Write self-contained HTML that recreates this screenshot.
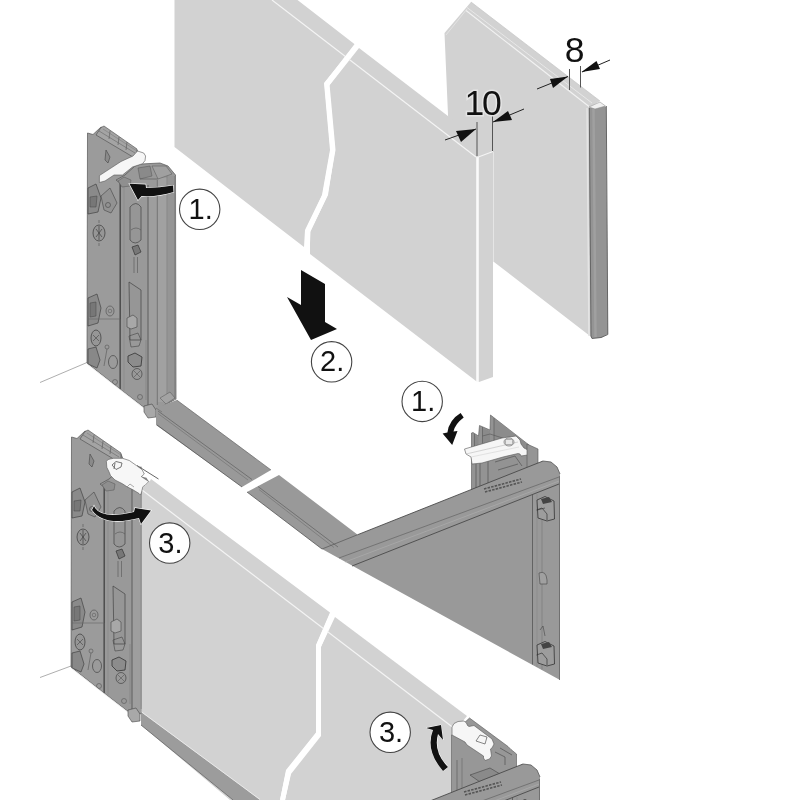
<!DOCTYPE html>
<html><head><meta charset="utf-8"><title>Drawer front assembly</title>
<style>
html,body{margin:0;padding:0;background:#fff;width:800px;height:800px;overflow:hidden}
svg{display:block;will-change:transform}
text{font-family:"Liberation Sans",sans-serif}
</style></head><body>
<svg width="800" height="800" viewBox="0 0 800 800">
<defs>
<!-- side runner mechanism (upper-left placement coordinates) -->
<g id="mech">
  <!-- back plate -->
  <polygon points="87.5,133 93,134.5 101,127 137,150 141,160 120,183 120,389 87,363" fill="#9b9b9b" stroke="#555" stroke-width="0.7"/>
  <!-- top rail on back plate -->
  <polygon points="101,127.5 104,126 137,149 137,156 133,157 96,135" fill="#a4a4a4" stroke="#4a4a4a" stroke-width="0.6"/>
  <line x1="99" y1="131" x2="135" y2="153" stroke="#666" stroke-width="0.6"/>
  <line x1="103" y1="129" x2="137" y2="151" stroke="#777" stroke-width="0.5"/>
  <line x1="110" y1="131" x2="109" y2="139" stroke="#555" stroke-width="0.6"/>
  <line x1="119" y1="137" x2="118" y2="145" stroke="#555" stroke-width="0.6"/>
  <line x1="127" y1="142" x2="126" y2="150" stroke="#555" stroke-width="0.6"/>
  <path d="M106,150 L110,157 L108,163 L105,160 Z" fill="#8a8a8a" stroke="#444" stroke-width="0.6"/>
  <!-- runner body -->
  <polygon points="116,180 125,175 135,166 141,164 160,163 168,166 175.5,175 176,399 156,410 150,412 120,389 120,183" fill="#999" stroke="#555" stroke-width="0.7"/>
  <!-- channel stripes -->
  <rect x="148" y="188" width="9.5" height="220" fill="#9e9e9e"/>
  <rect x="157.5" y="178" width="10" height="224" fill="#a1a1a1"/>
  <rect x="167.5" y="176" width="8" height="224" fill="#959595"/>
  <line x1="148" y1="185" x2="148" y2="410" stroke="#5c5c5c" stroke-width="1"/>
  <line x1="157.3" y1="180" x2="157.3" y2="405" stroke="#707070" stroke-width="0.9"/>
  <line x1="167" y1="176" x2="167" y2="400" stroke="#808080" stroke-width="0.8"/>
  <line x1="175" y1="176" x2="175" y2="399" stroke="#777" stroke-width="1"/>
  <line x1="120.5" y1="183" x2="120.5" y2="389" stroke="#4a4a4a" stroke-width="0.9"/>
  <line x1="124" y1="186" x2="124" y2="391" stroke="#888" stroke-width="0.6"/>
  <!-- top cap blocks on runner -->
  <polygon points="118,181 124,177 131,180 130,186 122,187" fill="#8f8f8f" stroke="#555" stroke-width="0.5"/>
  <polygon points="138,168 150,166 152,176 140,179" fill="#8a8a8a" stroke="#555" stroke-width="0.5"/>
  <polygon points="152,166 166,166 172,174 158,179" fill="#a0a0a0" stroke="#555" stroke-width="0.5"/>
  <line x1="140" y1="179" x2="158" y2="179" stroke="#555" stroke-width="0.6"/>
  <!-- slots on runner -->
  <path d="M130,207 L130,240 Q135,246 141,240 L141,207 Q136,200 130,207 Z" fill="#969696" stroke="#444" stroke-width="0.7"/>
  <path d="M131,230 Q136,226 141,230" fill="none" stroke="#555" stroke-width="0.6"/>
  <path d="M132,247 L138,245 L141,252 L135,255 Z" fill="#777" stroke="#333" stroke-width="0.7"/>
  <line x1="134" y1="257" x2="134" y2="273" stroke="#555" stroke-width="0.6"/>
  <line x1="137.5" y1="257" x2="137.5" y2="273" stroke="#555" stroke-width="0.6"/>
  <path d="M129,282 L141,290 L141,340 L130,340 Z" fill="#969696" stroke="#444" stroke-width="0.7"/>
  <path d="M127,318 L133,315 L137,318 L137,327 L131,329 L127,327 Z" fill="#a8a8a8" stroke="#444" stroke-width="0.6"/>
  <path d="M129,336 L138,333 L141,340 L139,346 L131,347 Z" fill="none" stroke="#444" stroke-width="0.6"/>
  <path d="M128,356 L135,353 L142,357 L141,366 L133,367 L128,362 Z" fill="#8c8c8c" stroke="#333" stroke-width="0.8"/>
  <ellipse cx="137" cy="374" rx="5" ry="5.5" fill="none" stroke="#444" stroke-width="0.7"/>
  <path d="M134,371 L140,377 M140,371 L134,377" stroke="#555" stroke-width="0.6"/>
  <circle cx="140" cy="397" r="2.5" fill="none" stroke="#555" stroke-width="0.6"/>
  <line x1="146" y1="340" x2="146" y2="400" stroke="#777" stroke-width="0.5"/>
  <!-- back plate details -->
  <path d="M88,188 L96,184 L101,198 L98,212 L88,214 Z" fill="#8a8a8a" stroke="#444" stroke-width="0.7"/>
  <path d="M90,197 L97,196 L96,207 L90,207 Z" fill="#777" stroke="#444" stroke-width="0.5"/>
  <path d="M101,196 L110,188 L117,203 L111,213 L104,210 Z" fill="#929292" stroke="#444" stroke-width="0.6"/>
  <circle cx="108" cy="205" r="2.5" fill="none" stroke="#444" stroke-width="0.6"/>
  <ellipse cx="99" cy="233" rx="6" ry="8" fill="#969696" stroke="#444" stroke-width="0.8"/>
  <path d="M96,229 L102,237 M102,229 L96,237 M99,226 L99,240" stroke="#444" stroke-width="0.7"/>
  <line x1="99" y1="220" x2="99" y2="223" stroke="#555" stroke-width="0.6"/>
  <line x1="99" y1="243" x2="99" y2="246" stroke="#555" stroke-width="0.6"/>
  <path d="M88,298 L97,294 L101,308 L98,323 L88,326 Z" fill="#8a8a8a" stroke="#444" stroke-width="0.7"/>
  <path d="M90,303 L96,302 L96,316 L90,317 Z" fill="#777" stroke="#444" stroke-width="0.5"/>
  <ellipse cx="110" cy="311" rx="4" ry="5" fill="none" stroke="#555" stroke-width="0.7"/>
  <circle cx="110" cy="311" r="1.8" fill="none" stroke="#555" stroke-width="0.5"/>
  <polyline points="88,319 120,319 120,389" fill="none" stroke="#666" stroke-width="0.6"/>
  <ellipse cx="96" cy="338" rx="5" ry="8" fill="#969696" stroke="#444" stroke-width="0.8"/>
  <path d="M93,335 L99,341 M99,335 L93,341" stroke="#444" stroke-width="0.6"/>
  <path d="M88,349 L96,347 L100,360 L97,368 L88,364 Z" fill="#888" stroke="#444" stroke-width="0.7"/>
  <circle cx="107" cy="347" r="2" fill="none" stroke="#555" stroke-width="0.6"/>
  <line x1="107" y1="349" x2="104" y2="366" stroke="#555" stroke-width="0.6"/>
  <ellipse cx="113" cy="362" rx="4.5" ry="6.5" fill="none" stroke="#444" stroke-width="0.7"/>
  <circle cx="115" cy="382" r="2.5" fill="none" stroke="#555" stroke-width="0.6"/>
  <line x1="87" y1="364" x2="150" y2="413" stroke="#e8e8e8" stroke-width="0.8"/>
  <!-- bottom tab -->
  <polygon points="144,406 152,404 156,410 156,417 148,418 144,412" fill="#a8a8a8" stroke="#444" stroke-width="0.6"/>
  <polygon points="160,398 170,392 175,398 166,404" fill="#a3a3a3" stroke="#555" stroke-width="0.5"/>
</g>

<!-- back panel of the drawer (rail right piece + back) -->
<g id="back">
  <polygon points="279,475 357.7,534.7 543,461 551,462 557,467 560,474 560,680 322,549 247,492" fill="#999"/>
  <line x1="258" y1="486.5" x2="338" y2="547" stroke="#666" stroke-width="0.8"/>
  <line x1="259" y1="489.5" x2="334" y2="547.5" stroke="#6f6f6f" stroke-width="0.6"/>
  <line x1="247" y1="492" x2="322" y2="549" stroke="#555" stroke-width="0.8"/>
  <line x1="322" y1="549" x2="357.7" y2="534.7" stroke="#555" stroke-width="0.7"/>
  <line x1="357.7" y1="534.7" x2="543" y2="461" stroke="#4a4a4a" stroke-width="0.9"/>
  <polyline points="543,461 551,462 557,467 560,474" fill="none" stroke="#555" stroke-width="0.8"/>
  <line x1="339" y1="558" x2="559" y2="477" stroke="#6a6a6a" stroke-width="0.8"/>
  <line x1="345" y1="562" x2="559" y2="481" stroke="#b0b0b0" stroke-width="0.6"/>
  <line x1="352" y1="566" x2="559" y2="484" stroke="#4a4a4a" stroke-width="0.9"/>
  <line x1="532.5" y1="494" x2="532.5" y2="664.5" stroke="#555" stroke-width="0.8"/>
  <line x1="537" y1="494" x2="537" y2="667" stroke="#888" stroke-width="0.6"/>
  <line x1="542" y1="520" x2="542" y2="669.5" stroke="#777" stroke-width="0.6"/>
  <line x1="559.5" y1="476" x2="559.5" y2="680" stroke="#666" stroke-width="0.8"/>
  <!-- connectors -->
  <path d="M537,500 L545,496.5 L554,501 L554.5,519 L547,521 L538,518 Z" fill="#9d9d9d" stroke="#333" stroke-width="0.8"/>
  <path d="M536.5,510 L542,508 L547,514 L547,520" fill="none" stroke="#333" stroke-width="0.7"/>
  <path d="M541,499 L549,497 L552,502 L543,504 Z" fill="#444"/>
  <path d="M537,510 L545,508" stroke="#333" stroke-width="0.6"/>
  <path d="M537,645 L545,641.5 L554,646 L554.5,664 L547,666 L538,663 Z" fill="#9d9d9d" stroke="#333" stroke-width="0.8"/>
  <path d="M536.5,655 L542,653 L547,659 L547,665" fill="none" stroke="#333" stroke-width="0.7"/>
  <path d="M541,644 L549,642 L552,647 L543,649 Z" fill="#444"/>
  <path d="M540,630 L543,626 L545,636" fill="none" stroke="#444" stroke-width="0.6"/>
  <path d="M539,573 Q546,570 547,580 L547,584 L540,584 Z" fill="#a0a0a0" stroke="#444" stroke-width="0.6"/>
  <!-- embossed logo -->
  <path d="M484,489 L521,479 M485,492 L522,482" stroke="#555" stroke-width="1.6" stroke-dasharray="2.5 1.2"/>
</g>
<clipPath id="clipL"><rect x="0" y="420" width="141.5" height="380"/></clipPath>
<clipPath id="clipBack2"><rect x="420" y="700" width="200" height="100"/></clipPath>
</defs>

<rect width="800" height="800" fill="#fff"/>

<!-- ===== Panel B (back, right upper) ===== -->
<polygon points="444.5,33 471,2 600,101 590,107 590,336 494,262 460,236 449.5,150" fill="#d2d2d2"/>
<line x1="471" y1="2" x2="600" y2="101" stroke="#c4c4c4" stroke-width="0.7"/>
<line x1="467" y1="7.5" x2="592" y2="103" stroke="#ececec" stroke-width="0.8"/>
<line x1="466" y1="10.5" x2="589" y2="106.5" stroke="#f2f2f2" stroke-width="1.1"/>
<line x1="446" y1="35" x2="467" y2="9" stroke="#e6e6e6" stroke-width="0.8"/>
<line x1="493.5" y1="152" x2="493.5" y2="262" stroke="#eaeaea" stroke-width="0.8"/>
<!-- edge profile -->
<line x1="587" y1="108" x2="589" y2="336" stroke="#e4e4e4" stroke-width="1.5"/>
<polygon points="589,108 600,103 606,107 608,334 601,338 591.5,338 590.5,336" fill="#949494"/>
<line x1="593.5" y1="109" x2="595.5" y2="337" stroke="#a0a0a0" stroke-width="2.5"/>
<polygon points="589,107 600,102 605.5,106 595,109" fill="#f0f0f0" stroke="#888" stroke-width="0.5"/>
<polyline points="589.3,108 591,336 592,338.5 601,337.5 607.8,334.5 606.3,106" fill="none" stroke="#666" stroke-width="1"/>

<!-- ===== Panel A (front, left upper) ===== -->
<polygon points="174.5,0 297.5,0 355,44.5 324,83 330,150 322,195 305,230 304,247 174.5,147" fill="#d2d2d2"/>
<polygon points="359,48 493,150.5 493,377 479,382 476,381 310,254 310,232 328,195 335,150 329,86" fill="#d2d2d2"/>
<line x1="272" y1="0" x2="476" y2="157" stroke="#f4f4f4" stroke-width="1.2"/>
<line x1="477.5" y1="157" x2="477.5" y2="382" stroke="#fafafa" stroke-width="2.6"/>
<line x1="477" y1="157.5" x2="493" y2="151.5" stroke="#f4f4f4" stroke-width="1.2"/>
<polyline points="357,45 327,84 333,150 325,195 308,231 307,256" fill="none" stroke="#fff" stroke-width="5"/>

<!-- dimension 10 -->
<g fill="#111">
<line x1="477" y1="122" x2="477" y2="156" stroke="#555" stroke-width="1"/>
<line x1="492.5" y1="116" x2="492.5" y2="151" stroke="#555" stroke-width="1"/>
<line x1="445" y1="140" x2="476" y2="129" stroke="#222" stroke-width="1"/>
<polygon points="476,129 456,131 461,142"/>
<line x1="524" y1="109" x2="493" y2="122" stroke="#222" stroke-width="1"/>
<polygon points="493,122 508,111 512,120"/>
<text x="482" y="114.7" font-size="35.5" letter-spacing="-2.2" text-anchor="middle" stroke="#e4e4e4" stroke-width="3" paint-order="stroke">10</text>
</g>
<!-- dimension 8 -->
<g fill="#111">
<line x1="569.5" y1="69" x2="569.5" y2="90" stroke="#555" stroke-width="1"/>
<line x1="580.5" y1="66" x2="580.5" y2="87.5" stroke="#555" stroke-width="1"/>
<line x1="537" y1="89" x2="568" y2="76.5" stroke="#222" stroke-width="1"/>
<polygon points="568,76.5 550,79 553,88"/>
<line x1="610" y1="60" x2="582" y2="72" stroke="#222" stroke-width="1"/>
<polygon points="581.5,72 596.5,61 600,69"/>
<text x="574.6" y="61.5" font-size="35.5" text-anchor="middle">8</text>
</g>

<!-- arrow 2 -->
<polygon points="301,270 325,284 325,322 337,329 311,340 287,297 301,305" fill="#111"/>

<!-- floor lines -->
<line x1="40" y1="382.5" x2="87" y2="362.5" stroke="#999" stroke-width="0.8"/>
<line x1="40" y1="677.5" x2="71" y2="666" stroke="#999" stroke-width="0.8"/>

<!-- ===== Upper-left mechanism ===== -->
<use href="#mech"/>
<polygon points="99.4,175.6 99.4,182.5 105,181 114,175 122.5,175 132.5,167 142.5,163.7 145,160.6 145.6,156 143.7,153 137.5,151 133,156 121,161.5" fill="#f6f6f6" stroke="#555" stroke-width="0.6"/>
<path d="M129.4,183.8 L145.6,184.4 L146,188 Q160,188 173,185.6 L173.5,192 Q158,197 141.5,196 L138,200 Z" fill="#111" stroke="#fff" stroke-width="1.2" paint-order="stroke"/>

<!-- ===== Rail left piece ===== -->
<polygon points="156,408 176.7,400 271,470 242,487 156,425" fill="#999"/>
<line x1="176.7" y1="400" x2="271" y2="470" stroke="#666" stroke-width="0.7"/>
<line x1="158" y1="411" x2="252" y2="479.5" stroke="#666" stroke-width="0.8"/>
<line x1="158" y1="413.5" x2="248" y2="480" stroke="#6f6f6f" stroke-width="0.6"/>
<line x1="156" y1="408" x2="162" y2="412" stroke="#666" stroke-width="0.6"/>
<line x1="157" y1="425" x2="242" y2="487" stroke="#555" stroke-width="0.8"/>

<!-- ===== Right-upper mechanism ===== -->
<polygon points="471.5,433 473,432.5 478.5,436 479.5,425.5 490,430 490.5,415 529,445 529,470 471.5,490" fill="#939393" stroke="#555" stroke-width="0.6"/>
<polygon points="474.5,435 478.5,437.5 478.5,448 474.5,449" fill="#8a8a8a"/>
<polygon points="482.5,428 490,431 490,443 482.5,446" fill="#8a8a8a"/>
<polygon points="494,419 527,444 527,449 494,440" fill="#8c8c8c"/>
<line x1="474.5" y1="434" x2="474.5" y2="450" stroke="#555" stroke-width="0.6"/>
<line x1="482.5" y1="427" x2="482.5" y2="447" stroke="#555" stroke-width="0.6"/>
<line x1="494" y1="418" x2="494" y2="441" stroke="#555" stroke-width="0.6"/>
<polyline points="482.5,436 490,434 515,442 524,448" fill="none" stroke="#555" stroke-width="0.6"/>
<path d="M476,464 L476,488 M480,463 L480,486 M488,461 L488,483 M495,462 L515,456 L522,466 M498,470 L518,464" fill="none" stroke="#555" stroke-width="0.7"/>
<polygon points="464.5,449 502,438 516,436 520,440 521,444 524,448 528,450 527.5,455 521,456 520,454 518,453.5 503,457 482,463 472,464 471,457 466,454" fill="#f6f6f6" stroke="#555" stroke-width="0.6"/>
<line x1="466" y1="454" x2="518" y2="442" stroke="#bbb" stroke-width="0.6"/>
<line x1="471" y1="457" x2="519" y2="447" stroke="#ccc" stroke-width="0.5"/>
<ellipse cx="509" cy="442" rx="5" ry="4" fill="#e8e8e8" stroke="#555" stroke-width="0.6"/>
<rect x="505.5" y="439.5" width="7" height="5" rx="1" fill="none" stroke="#777" stroke-width="0.5"/>

<polygon points="527,444 538,449 538,466 527,470" fill="#959595" stroke="#555" stroke-width="0.6"/>
<!-- back panel upper -->
<use href="#back"/>

<!-- arrow 1 right -->
<path d="M460.6,413 L463.7,417.5 Q455,424 453.5,431.5 L457.5,431 L452.2,445 L442.6,433.5 L447.4,432.5 Q449,420 460.6,413 Z" fill="#111" stroke="#fff" stroke-width="1" paint-order="stroke"/>

<!-- ===== Lower panel ===== -->
<polygon points="141.5,489 150,481 151,479 330,612.5 316,645 316,732.5 286,770 280,800 230,800 141,725" fill="#d2d2d2"/>
<polygon points="335,617 467,716 451.5,735 451.5,800 285,800 291,774 321,736 321,647" fill="#d2d2d2"/>
<line x1="142" y1="490" x2="455" y2="729" stroke="#f4f4f4" stroke-width="1.2"/>
<polyline points="332.5,614 318.5,646 318.5,734 288.5,772 282.5,800" fill="none" stroke="#fff" stroke-width="5"/>
<!-- bottom rail -->
<polygon points="141,712 240,785 260,800 233,800 141,725" fill="#9c9c9c"/>
<line x1="141" y1="711.5" x2="260" y2="799.5" stroke="#ececec" stroke-width="0.9"/>
<line x1="141" y1="725" x2="233" y2="800" stroke="#666" stroke-width="0.8"/>

<!-- ===== Lower-right mechanism ===== -->
<polygon points="451.5,735 469.5,718 508,746.5 511,749.5 516.5,754 516.5,800 451.5,800" fill="#979797" stroke="#555" stroke-width="0.6"/>
<line x1="457" y1="760" x2="457" y2="800" stroke="#555" stroke-width="0.6"/>
<line x1="462" y1="758" x2="462" y2="800" stroke="#666" stroke-width="0.6"/>
<path d="M470,775 L490,768 L500,774 L480,782 Z" fill="#8a8a8a" stroke="#444" stroke-width="0.6"/>
<path d="M495,752 L505,757 L505,765 M500,748 L512,755" fill="none" stroke="#444" stroke-width="0.6"/>
<polygon points="452,733.5 452,727 454,723.5 458,721.5 464,721 466.5,723 467.5,725.5 469,726.5 474,725.5 492,739 494,744 492,748 490.5,749 491.5,756 489.5,759 485,760.5 483.5,758 483.5,756 467,745 465,742 452,735" fill="#f6f6f6" stroke="#555" stroke-width="0.6"/>
<path d="M476,741 L480,735 L487,737 L485,744 Z" fill="none" stroke="#555" stroke-width="0.7"/>
<g clip-path="url(#clipBack2)"><use href="#back" transform="translate(-20,303)"/></g>
<!-- arrow 3 right -->
<path d="M443,771 Q425,750 433,730 L426,728 L441,725 L443,740 L438,734 Q433,752 448,767 Z" fill="#111" stroke="#fff" stroke-width="1" paint-order="stroke"/>

<!-- ===== Lower-left mechanism ===== -->
<g clip-path="url(#clipL)"><use href="#mech" transform="translate(-16,304)"/></g>
<line x1="137" y1="465.5" x2="158.5" y2="479" stroke="#666" stroke-width="1"/>
<polygon points="141.3,476.6 146.5,477.8 148.8,481.5 145,481" fill="#888"/>
<polygon points="106.4,461.3 108.3,459.4 113.5,458.3 122.5,458.3 129.3,460.5 136.8,465.8 142,469.5 144.3,474 141.3,476.6 148.8,481.5 145,485.3 142.8,486.8 141.6,492 140.5,495 139,493.5 133,489.8 127,486.8 122.5,483.8 115,480 110.5,475.5 109,471.8 106.8,467.3" fill="#f7f7f7" stroke="#555" stroke-width="0.6"/>
<path d="M112,465 L116,461.5 L122,463 L121,467 L116,469.5 Z M115,463 L114,469" fill="none" stroke="#555" stroke-width="0.8"/>
<path d="M127,487 L130,484 L134,487" fill="none" stroke="#777" stroke-width="0.6"/>
<path d="M94,506 Q100,520 134,512 L135,508 L151,510.5 L141,524 L139,518 Q104,527 92,510 Z" fill="#111" stroke="#fff" stroke-width="1.2" paint-order="stroke"/>

<!-- circles -->
<g fill="#fff" stroke="#444" stroke-width="1.1">
<circle cx="199.7" cy="209.3" r="20.2"/>
<circle cx="331.6" cy="361.8" r="20.2"/>
<circle cx="422.2" cy="401.4" r="20.2"/>
<circle cx="169.7" cy="543.1" r="20.2"/>
<circle cx="390.2" cy="732.3" r="20.2"/>
</g>
<g font-size="29" fill="#111" text-anchor="middle">
<text x="200.6" y="219.2">1.</text>
<text x="332.2" y="371.3">2.</text>
<text x="423.2" y="411">1.</text>
<text x="170.4" y="552.6">3.</text>
<text x="391" y="741.6">3.</text>
</g>
</svg>
</body></html>
